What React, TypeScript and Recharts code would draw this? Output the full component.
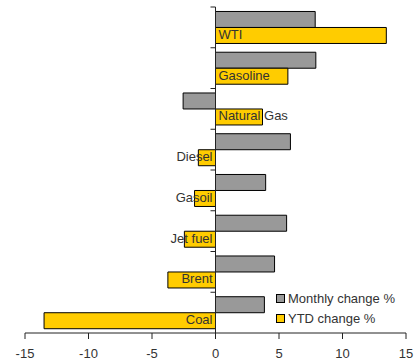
import { BarChart, Bar, XAxis, YAxis, ReferenceLine, LabelList } from 'recharts'

const categories = ['WTI', 'Gasoline', 'Natural Gas', 'Diesel', 'Gasoil', 'Jet fuel', 'Brent', 'Coal']
const monthlyChange = [7.85, 7.9, -2.55, 5.9, 3.95, 5.6, 4.65, 3.85]
const ytdChange = [13.45, 5.7, 3.7, -1.35, -1.65, -2.45, -3.75, -13.5]
const xTicks = [-15, -10, -5, 0, 5, 10, 15]

const data = categories.map((name, i) => ({ name, monthly: monthlyChange[i], ytd: ytdChange[i] }))

const series = [
  { key: 'monthly', name: 'Monthly change %', color: '#999999' },
  { key: 'ytd', name: 'YTD change %', color: '#FFCC00' },
]

const FONT = '"Liberation Sans", Arial, Helvetica, sans-serif'
const TEXT = '#333333'
const AXIS = '#222222'

// vertical zero axis with small ticks at each category boundary
function ZeroAxis(props: any) {
  const { x1, y1, x2, y2 } = props
  const top = Math.min(y1, y2)
  const bottom = Math.max(y1, y2)
  const step = (bottom - top) / categories.length
  return (
    <g>
      <line x1={x1} y1={top} x2={x2} y2={bottom} stroke={AXIS} strokeWidth={1} />
      {categories.map((_, i) => (
        <line key={i} x1={x1 - 5} x2={x1} y1={top + i * step} y2={top + i * step} stroke={AXIS} strokeWidth={1} />
      ))}
    </g>
  )
}

// category name sits on the YTD bar, on whichever side of zero the bar falls
function NameLabel(props: any) {
  const { x, y, width, height, value, index } = props
  const left = Math.min(x, x + width)
  const right = Math.max(x, x + width)
  const negative = ytdChange[index] < 0
  return (
    <text
      x={negative ? right - 3 : left + 3}
      y={y + height / 2 - 1}
      textAnchor={negative ? 'end' : 'start'}
      dominantBaseline="central"
      fontSize={13}
      fontFamily={FONT}
      fill={TEXT}
    >
      {value}
    </text>
  )
}

function LegendBox() {
  return (
    <div style={{ position: 'absolute', left: 276, top: 289, fontFamily: FONT, fontSize: 13, color: TEXT, whiteSpace: 'nowrap' }}>
      {series.map((s) => (
        <div key={s.key} style={{ display: 'flex', alignItems: 'center', height: 19.5 }}>
          <span style={{ width: 7, height: 7, background: s.color, border: '1px solid #000', marginRight: 3 }} />
          {s.name}
        </div>
      ))}
    </div>
  )
}

export default function App() {
  return (
    <div style={{ position: 'absolute', left: 0, top: 0, width: 415, height: 362, background: '#fff' }}>
      <BarChart
        width={415}
        height={362}
        data={data}
        layout="vertical"
        margin={{ top: 7, right: 9, bottom: 5, left: 25 }}
        barCategoryGap="11%"
        barGap={0}
      >
        <XAxis
          type="number"
          domain={[-15, 15]}
          ticks={xTicks}
          height={24}
          tickSize={6}
          tickMargin={10}
          stroke={AXIS}
          tick={{ fill: TEXT, fontSize: 13, fontFamily: FONT }}
        />
        <YAxis type="category" dataKey="name" hide />
        {series.map((s) => (
          <Bar key={s.key} dataKey={s.key} name={s.name} fill={s.color} stroke="#000" strokeWidth={1} isAnimationActive={false}>
            {s.key === 'ytd' && <LabelList dataKey="name" content={NameLabel} />}
          </Bar>
        ))}
        <ReferenceLine x={0} stroke={AXIS} shape={ZeroAxis} />
      </BarChart>
      <LegendBox />
    </div>
  )
}
